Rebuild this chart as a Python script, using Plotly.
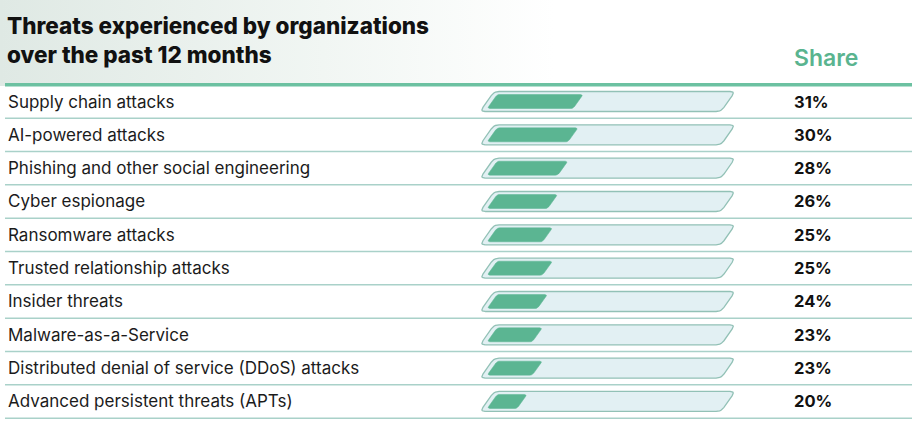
import plotly.graph_objects as go
import numpy as np

# ---------------- data ----------------
categories = [
    "Supply chain attacks",
    "AI-powered attacks",
    "Phishing and other social engineering",
    "Cyber espionage",
    "Ransomware attacks",
    "Trusted relationship attacks",
    "Insider threats",
    "Malware-as-a-Service",
    "Distributed denial of service (DDoS) attacks",
    "Advanced persistent threats (APTs)",
]
shares = [31, 30, 28, 26, 25, 25, 24, 23, 23, 20]
value_labels = [f"{v}%" for v in shares]
title_text = "Threats experienced by organizations<br>over the past 12 months"
column_header = "Share"

# ---------------- styling / layout constants ----------------
W, H = 923, 429
PX_PER_PCT = 5.1          # horizontal scale of the bar column
PX_AT_ZERO = 425.0        # pixel where 0% would sit
ROW0_PX = 101.5           # pixel centre of first row
ROW_H = 33.33             # row pitch in px
BAR_ORIGIN = 12.2         # % value where the filled bar starts (bottom-left)
TRACK_START = 10.8
TRACK_END = 60.8

FILL_COL = "#5bb592"
TRACK_FILL = "#e2f0f3"
TRACK_LINE = "#92c1b6"
THICK_LINE = "#6cc1a1"
THIN_LINE = "#a9d1c9"
SHARE_COL = "#5ab48f"
TEXT_COL = "#1b1b1b"


def v2px(v):
    return PX_AT_ZERO + PX_PER_PCT * v


def px2v(p):
    return (p - PX_AT_ZERO) / PX_PER_PCT


def py2r(p):
    return (p - ROW0_PX) / ROW_H


def rounded_poly(pts, r, n=6):
    """pts in pixel space -> rounded corner polygon (data space)."""
    out = []
    m = len(pts)
    for i in range(m):
        P = np.array(pts[i], float)
        A = np.array(pts[i - 1], float)
        B = np.array(pts[(i + 1) % m], float)
        da = (A - P) / np.linalg.norm(A - P)
        db = (B - P) / np.linalg.norm(B - P)
        p0 = P + r * da
        p1 = P + r * db
        for t in np.linspace(0, 1, n):
            q = (1 - t) ** 2 * p0 + 2 * (1 - t) * t * P + t ** 2 * p1
            out.append(q)
    out.append(out[0])
    out = np.array(out)
    return [px2v(x) for x in out[:, 0]], [py2r(y) for y in out[:, 1]]


fig = go.Figure()

# background tint in the header area
bx = [px2v(0), px2v(W), px2v(W), px2v(0), px2v(0)]
by = [py2r(0), py2r(0), py2r(86), py2r(86), py2r(0)]
fig.add_trace(go.Scatter(
    x=bx, y=by, mode="lines", line=dict(width=0), fill="toself",
    fillgradient=dict(type="horizontal",
                      colorscale=[[0, "#dfe9e4"], [0.35, "#f1f6f3"], [0.6, "#ffffff"], [1, "#ffffff"]]),
    hoverinfo="skip", showlegend=False))

# tracks and filled bars
for i, v in enumerate(shares):
    cy = ROW0_PX + ROW_H * i
    # track
    t_top, t_bot = cy - 10, cy + 10
    tx_bl, tx_br = v2px(TRACK_START), v2px(TRACK_END) - 14
    tpts = [(tx_bl, t_bot), (tx_bl + 14, t_top), (v2px(TRACK_END), t_top), (tx_br, t_bot)]
    xs, ys = rounded_poly(tpts, 5)
    fig.add_trace(go.Scatter(x=xs, y=ys, mode="lines", fill="toself",
                             fillcolor=TRACK_FILL, line=dict(color=TRACK_LINE, width=1.3),
                             hoverinfo="skip", showlegend=False))
    # filled value bar
    f_top, f_bot = cy - 7, cy + 7
    x0 = v2px(BAR_ORIGIN)
    x1 = v2px(v)
    fpts = [(x0, f_bot), (x0 + 10, f_top), (x1, f_top), (x1 - 10, f_bot)]
    xs, ys = rounded_poly(fpts, 2.5)
    fig.add_trace(go.Scatter(x=xs, y=ys, mode="lines", fill="toself",
                             fillcolor=FILL_COL, line=dict(color=FILL_COL, width=0.5),
                             hoverinfo="text", text=f"{categories[i]}: {v}%",
                             showlegend=False))

shapes = []
# thick header rule
shapes.append(dict(type="line", xref="paper", yref="y", x0=5 / W, x1=912 / W,
                   y0=-0.5, y1=-0.5, line=dict(color=THICK_LINE, width=3.5)))
for i in range(len(categories)):
    shapes.append(dict(type="line", xref="paper", yref="y", x0=5 / W, x1=912 / W,
                       y0=i + 0.5, y1=i + 0.5, line=dict(color=THIN_LINE, width=1.5)))

annotations = []
annotations.append(dict(xref="paper", yref="paper", x=5 / W, y=1 - 10 / H,
                        xanchor="left", yanchor="top", align="left", showarrow=False,
                        text=title_text,
                        font=dict(family="Inter", size=22.5, color="#111111", weight=800)))
annotations.append(dict(xref="paper", yref="paper", x=792 / W, y=1 - 58 / H,
                        xanchor="left", yanchor="middle", showarrow=False,
                        text=column_header,
                        font=dict(family="Inter", size=23, color=SHARE_COL, weight=600)))
for i, (c, lab) in enumerate(zip(categories, value_labels)):
    annotations.append(dict(xref="paper", yref="y", x=6 / W, y=i, xanchor="left",
                            yanchor="middle", showarrow=False, text=c,
                            font=dict(family="Inter", size=17, color=TEXT_COL)))
    annotations.append(dict(xref="paper", yref="y", x=792 / W, y=i, xanchor="left",
                            yanchor="middle", showarrow=False, text=f"<b>{lab}</b>",
                            font=dict(family="Inter", size=16.5, color="#111111")))

fig.update_layout(
    width=W, height=H, margin=dict(l=0, r=0, t=0, b=0),
    paper_bgcolor="white", plot_bgcolor="rgba(0,0,0,0)",
    xaxis=dict(range=[px2v(0), px2v(W)], visible=False, fixedrange=True),
    yaxis=dict(range=[py2r(H), py2r(0)], visible=False, fixedrange=True),
    shapes=shapes, annotations=annotations, showlegend=False,
)

fig.write_html("out.html", config={"displayModeBar": False},
               post_script="document.body.style.margin='0';document.body.style.overflow='hidden';")
